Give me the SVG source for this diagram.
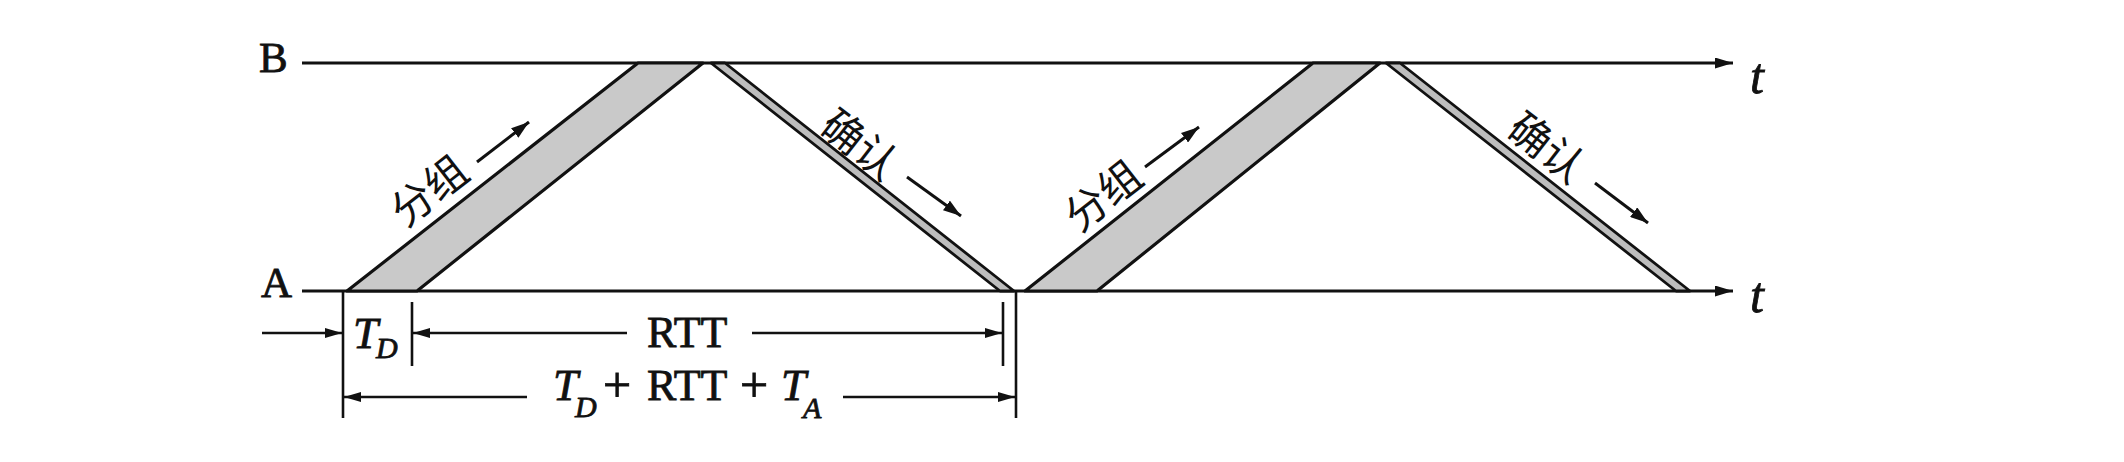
<svg xmlns="http://www.w3.org/2000/svg" width="2124" height="462" viewBox="0 0 2124 462">
<style>
.ax{stroke:#111;stroke-width:3.2;fill:none}
.dim{stroke:#111;stroke-width:2.6;fill:none}
.lbl{stroke:#111;stroke-width:3;fill:none}
.pkt{fill:#c9c9c9;stroke:#111;stroke-width:3.2;stroke-linejoin:round}
.ack{fill:#bdbdbd;stroke:#111;stroke-width:2.8;stroke-linejoin:round}
.serif{font-family:"Liberation Serif","Times New Roman",serif;fill:#111;stroke:#111;stroke-width:0.8}
.it{font-style:italic}
.cjk{font-family:"Noto Sans CJK SC","Noto Sans CJK JP",sans-serif;fill:#111;font-size:42px}
</style>
<defs>
<marker id="ah" viewBox="0 0 18 11" refX="18" refY="5.5" markerWidth="18" markerHeight="11" markerUnits="userSpaceOnUse" orient="auto">
<path d="M0,0 L18,5.5 L0,11 Z" fill="#111"/>
</marker>
<marker id="ahs" viewBox="0 0 17 10" refX="17" refY="5" markerWidth="17" markerHeight="10" markerUnits="userSpaceOnUse" orient="auto">
<path d="M0,0 L17,5 L0,10 Z" fill="#111"/>
</marker>
<marker id="ahl" viewBox="0 0 18 12" refX="18" refY="6" markerWidth="18" markerHeight="12" markerUnits="userSpaceOnUse" orient="auto">
<path d="M0,0 L18,6 L0,12 Z" fill="#111"/>
</marker>
</defs>
<rect width="2124" height="462" fill="#fff"/>

<g id="axisB">
<line class="ax" x1="302" y1="63" x2="1733" y2="63" marker-end="url(#ah)"/>
<text class="serif" x="259" y="72" font-size="43">B</text>
<text class="serif it" x="1750" y="93" font-size="50">t</text>
</g>
<g id="axisA">
<line class="ax" x1="302" y1="291" x2="1733" y2="291" marker-end="url(#ah)"/>
<text class="serif" x="261" y="297" font-size="43">A</text>
<text class="serif it" x="1750" y="312" font-size="50">t</text>
</g>

<g id="packet1">
<polygon class="pkt" points="347,291 417,291 703,63 638,63"/>
<text class="cjk" text-anchor="middle" dominant-baseline="central" transform="translate(427,188) rotate(-38)">分组</text>
<line class="lbl" x1="477" y1="162" x2="529" y2="122" marker-end="url(#ahl)"/>
</g>
<g id="ack1">
<polygon class="ack" points="711,63 725,63 1014,291 1000,291"/>
<text class="cjk" text-anchor="middle" dominant-baseline="central" transform="translate(862,142) rotate(38)">确认</text>
<line class="lbl" x1="907" y1="177" x2="961" y2="216" marker-end="url(#ahl)"/>
</g>
<g id="packet2">
<polygon class="pkt" points="1025,291 1097,291 1380,63 1313,63"/>
<text class="cjk" text-anchor="middle" dominant-baseline="central" transform="translate(1101,193) rotate(-38)">分组</text>
<line class="lbl" x1="1145" y1="167" x2="1199" y2="127" marker-end="url(#ahl)"/>
</g>
<g id="ack2">
<polygon class="ack" points="1386,63 1400,63 1690,291 1676,291"/>
<text class="cjk" text-anchor="middle" dominant-baseline="central" transform="translate(1549,145) rotate(38)">确认</text>
<line class="lbl" x1="1595" y1="183" x2="1648" y2="223" marker-end="url(#ahl)"/>
</g>

<g id="connectors">
<line class="dim" x1="343" y1="291" x2="343" y2="418"/>
<line class="dim" x1="1016" y1="291" x2="1016" y2="418"/>
<line class="dim" x1="412" y1="302" x2="412" y2="366"/>
<line class="dim" x1="1003" y1="302" x2="1003" y2="366"/>
<line class="dim" x1="262" y1="333" x2="342" y2="333" marker-end="url(#ahs)"/>
<line class="dim" x1="627" y1="333" x2="413" y2="333" marker-end="url(#ahs)"/>
<line class="dim" x1="752" y1="333" x2="1002" y2="333" marker-end="url(#ahs)"/>
<line class="dim" x1="527" y1="397" x2="344" y2="397" marker-end="url(#ahs)"/>
<line class="dim" x1="843" y1="397" x2="1015" y2="397" marker-end="url(#ahs)"/>
</g>

<g id="labels">
<text class="serif it" x="353" y="348" font-size="45">T</text>
<text class="serif it" x="376" y="358" font-size="30">D</text>
<text class="serif" x="647" y="347" font-size="44">RTT</text>
<text class="serif it" x="553" y="400" font-size="45">T</text>
<text class="serif it" x="575" y="417" font-size="30">D</text>
<text class="serif" x="603" y="402" font-size="50">+</text>
<text class="serif" x="647" y="400" font-size="44">RTT</text>
<text class="serif" x="740" y="402" font-size="50">+</text>
<text class="serif it" x="781" y="400" font-size="45">T</text>
<text class="serif it" x="803" y="418" font-size="30">A</text>
</g>
</svg>
